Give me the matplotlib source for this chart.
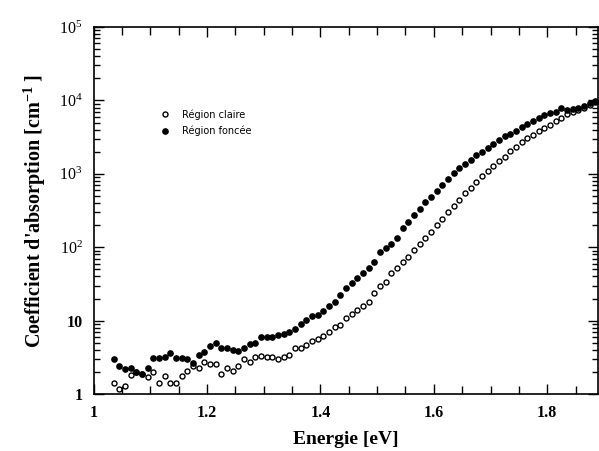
import numpy as np
import matplotlib
matplotlib.use("Agg")
import matplotlib.pyplot as plt
from matplotlib.ticker import FixedLocator, LogLocator, NullFormatter, FixedFormatter

# Energie (eV), pas de 0.01 eV
energie = [1.035, 1.045, 1.055, 1.065, 1.075, 1.085, 1.095, 1.105, 1.115, 1.125,
           1.135, 1.145, 1.155, 1.165, 1.175, 1.185, 1.195, 1.205, 1.215, 1.225,
           1.235, 1.245, 1.255, 1.265, 1.275, 1.285, 1.295, 1.305, 1.315, 1.325,
           1.335, 1.345, 1.355, 1.365, 1.375, 1.385, 1.395, 1.405, 1.415, 1.425,
           1.435, 1.445, 1.455, 1.465, 1.475, 1.485, 1.495, 1.505, 1.515, 1.525,
           1.535, 1.545, 1.555, 1.565, 1.575, 1.585, 1.595, 1.605, 1.615, 1.625,
           1.635, 1.645, 1.655, 1.665, 1.675, 1.685, 1.695, 1.705, 1.715, 1.725,
           1.735, 1.745, 1.755, 1.765, 1.775, 1.785, 1.795, 1.805, 1.815, 1.825,
           1.835, 1.845, 1.855, 1.865, 1.875, 1.885]

# Coefficient d'absorption (cm-1) - région claire
claire = [1.4, 1.17, 1.3, 1.8, 2.0, 1.9, 1.69, 2.0, 1.4, 1.76,
          1.43, 1.4, 1.78, 2.08, 2.43, 2.28, 2.76, 2.6, 2.6, 1.9,
          2.28, 2.08, 2.43, 3.0, 2.76, 3.2, 3.3, 3.2, 3.17, 2.97,
          3.17, 3.4, 4.2, 4.3, 4.66, 5.2, 5.56, 6.1, 7.1, 8.1,
          8.7, 10.8, 12.3, 14, 15.9, 18.2, 24, 29.7, 34, 44.4,
          51.8, 63.6, 74, 91.8, 112, 132, 160, 200, 240, 300,
          365, 440, 540, 640, 770, 920, 1080, 1280, 1480, 1700,
          2020, 2340, 2680, 3050, 3420, 3800, 4250, 4700, 5250, 5850,
          6450, 6950, 7450, 7950, 8600, 9400]

# Coefficient d'absorption (cm-1) - région foncée
foncee = [3.0, 2.43, 2.2, 2.28, 2.0, 1.9, 2.28, 3.1, 3.1, 3.2,
          3.66, 3.1, 3.06, 3.0, 2.67, 3.4, 3.7, 4.5, 5.0, 4.3,
          4.2, 4.0, 3.86, 4.3, 4.8, 5.0, 5.9, 6.05, 6.05, 6.4,
          6.5, 7.1, 7.7, 9.0, 10.2, 11.4, 12.0, 13.5, 15.9, 18.1,
          22.4, 27.6, 32.3, 37.8, 45, 52.7, 63.6, 86, 97, 111,
          133, 185, 224, 276, 331, 419, 491, 575, 710, 850,
          1020, 1200, 1380, 1550, 1780, 1960, 2240, 2560, 2930, 3240,
          3540, 3880, 4350, 4780, 5300, 5760, 6260, 6700, 7000, 7900,
          7500, 7700, 8000, 8400, 9100, 9800]

x_ticks = [1.0, 1.2, 1.4, 1.6, 1.8]
x_labels = ['1', '1.2', '1.4', '1.6', '1.8']
y_ticks = [1, 10, 1e2, 1e3, 1e4, 1e5]
y_labels = ['1', '10', '$10^2$', '$10^3$', '$10^4$', '$10^5$']

plt.rcParams['font.family'] = ['Liberation Serif', 'DejaVu Serif']
plt.rcParams['mathtext.fontset'] = 'custom'
plt.rcParams['mathtext.rm'] = 'Liberation Serif'
plt.rcParams['mathtext.it'] = 'Liberation Serif:italic'
plt.rcParams['mathtext.bf'] = 'Liberation Serif:bold'

fig = plt.figure(figsize=(5.99, 4.51), dpi=100)
ax = fig.add_axes([0.1564, 0.1264, 0.8414, 0.8136])

ax.plot(energie, claire, 'o', mfc='white', mec='black', mew=1.0, ms=3.6,
        label='Région claire')
ax.plot(energie, foncee, 'o', mfc='black', mec='black', ms=3.8,
        label='Région foncée')

ax.set_yscale('log')
ax.set_xlim(1.0, 1.889)
ax.set_ylim(1, 1e5)

ax.xaxis.set_major_locator(FixedLocator(x_ticks))
ax.xaxis.set_major_formatter(FixedFormatter(x_labels))
ax.xaxis.set_minor_locator(FixedLocator([1.05 + 0.05 * i for i in range(17)]))
ax.yaxis.set_major_locator(FixedLocator(y_ticks))
ax.yaxis.set_major_formatter(FixedFormatter(y_labels))
ax.yaxis.set_minor_locator(LogLocator(base=10, subs=np.arange(2, 10)))
ax.yaxis.set_minor_formatter(NullFormatter())

ax.tick_params(which='both', direction='in', top=True, right=True, width=1.0)
ax.tick_params(which='major', length=7, labelsize=11.5, pad=8)
ax.tick_params(which='minor', length=4)
ax.tick_params(axis='x', which='minor', length=6)
for lab in ax.get_xticklabels() + ax.get_yticklabels():
    lab.set_fontweight('bold')
for s in ax.spines.values():
    s.set_linewidth(1.2)

ax.set_xlabel('Energie [eV]', fontsize=14, fontweight='bold', labelpad=7)
ax.set_ylabel("Coefficient d'absorption [cm$^{\\mathbf{-1}}$ ]", fontsize=14.5,
              fontweight='bold', labelpad=8)

ax.legend(loc='upper left', bbox_to_anchor=(0.115, 0.80), frameon=False,
          prop={'family': 'DejaVu Sans', 'size': 7}, handletextpad=1.2,
          labelspacing=0.6, handlelength=1.0)

fig.savefig('out.png', dpi=100)
